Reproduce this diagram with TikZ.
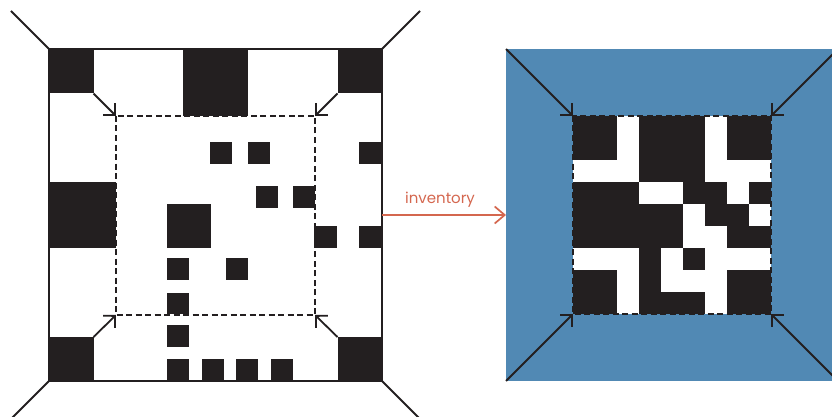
\documentclass[tikz,border=0pt]{standalone}
\usepackage{fontspec}
\newfontfamily\labelfont{Poppins}
\usetikzlibrary{arrows.meta}
\definecolor{ink}{HTML}{231F20}
\definecolor{steel}{HTML}{5189B4}
\definecolor{rust}{HTML}{D4674F}
\begin{document}
\begin{tikzpicture}[x=1pt,y=-1pt,
  blk/.style={fill=ink},
  edgeline/.style={draw=ink,line width=1.8pt},
  dashframe/.style={draw=ink,line width=1.7pt,dash pattern=on 6pt off 3.5pt},
  barbline/.style={edgeline,-{Straight Barb[angle=90:12pt]}},
  flowline/.style={draw=rust,line width=1.7pt,-{Straight Barb[length=10pt,width=17pt]}}
]
\useasboundingbox (0,0) rectangle (832,417);
\clip (0,0) rectangle (832,417);

% ---------- left figure ----------
\coordinate (LA) at (11,11);
\coordinate (LB) at (420,11);
\coordinate (LC) at (11,419);
\coordinate (LD) at (420,419);
\coordinate (L1) at (49,49);
\coordinate (L2) at (382,49);
\coordinate (L3) at (49,381);
\coordinate (L4) at (382,381);
\coordinate (K1) at (93.5,93.5);
\coordinate (K2) at (337.5,93.5);
\coordinate (K3) at (93.5,337);
\coordinate (K4) at (337.5,337);
\coordinate (I1) at (116,116);
\coordinate (I2) at (315,116);
\coordinate (I3) at (116,315);
\coordinate (I4) at (315,315);

\fill[white] (L1) rectangle (L4);
\fill[blk] (L1) rectangle (K1);
\fill[blk] (K2 |- L1) rectangle (L2 |- K2);
\fill[blk] (L1 |- K3) rectangle (K3 |- L3);
\fill[blk] (K4) rectangle (L4);
\foreach \xa/\ya/\xb/\yb in {
  183/49/248/116,
  210/142/232/164, 248/142/270/164, 359/142/382/164,
  256/186/278/208, 293/186/315/208,
  49/182/116/248,
  167/204/211/248,
  314/226/337/248, 359/226/382/248,
  167/258/189/280, 226/258/248/280,
  167/293/189/314,
  167/325/189/347,
  167/359/189/381, 202/359/224/381, 236/359/258/381, 271/359/293/381}
  \fill[blk] (\xa,\ya) rectangle (\xb,\yb);
\draw[edgeline] (L1) rectangle (L4);
\draw[dashframe] (I1) rectangle (I4);
\draw[edgeline] (LA) -- (L1);
\draw[edgeline] (LB) -- (L2);
\draw[edgeline] (LC) -- (L3);
\draw[edgeline] (LD) -- (L4);
\draw[barbline] (K1) -- (I1);
\draw[barbline] (K2) -- (I2);
\draw[barbline] (K3) -- (I3);
\draw[barbline] (K4) -- (I4);

% ---------- right figure ----------
\coordinate (R1) at (506,49);
\coordinate (R2) at (838,49);
\coordinate (R3) at (506,381);
\coordinate (R4) at (838,381);
\coordinate (J1) at (573,116);
\coordinate (J2) at (771,116);
\coordinate (J3) at (573,314);
\coordinate (J4) at (771,314);

\fill[steel] (R1) rectangle (R4);
\fill[white] (J1) rectangle (J4);
\foreach \r/\a/\b in {
  0/0/1, 0/3/5, 0/7/8,
  1/0/1, 1/3/5, 1/7/8,
  2/3/5,
  3/0/2, 3/5/6, 3/8/8,
  4/0/4, 4/6/7,
  5/0/4, 5/7/8,
  6/3/3, 6/5/5,
  7/0/1, 7/3/3, 7/7/8,
  8/0/1, 8/3/5, 8/7/8}
  \fill[blk] ({573+22*\a},{116+22*\r}) rectangle ({573+22*(\b+1)},{116+22*(\r+1)});
\draw[dashframe] (J1) rectangle (J4);
\draw[barbline] (R1) -- (J1);
\draw[barbline] (R2) -- (J2);
\draw[barbline] (R3) -- (J3);
\draw[barbline] (R4) -- (J4);

% ---------- connector ----------
\coordinate (A1) at (382,215);
\coordinate (A2) at (506,215);
\draw[flowline] (A1) -- (A2);
\node[anchor=base, text=rust, inner sep=0pt, font=\labelfont\fontsize{15}{18}\selectfont] (lbl) at (440,203) {inventory};
\end{tikzpicture}
\end{document}
